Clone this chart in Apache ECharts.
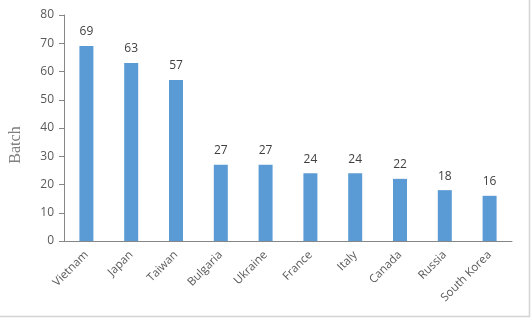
<!DOCTYPE html>
<html><head><meta charset="utf-8">
<script src="https://cdn.jsdelivr.net/npm/echarts@6/dist/echarts.min.js"></script>
<style>html,body{margin:0;padding:0;background:#fff}#c{width:532px;height:318px}</style>
</head><body><div id="c"></div>
<script>
var categories = ["Vietnam","Japan","Taiwan","Bulgaria","Ukraine","France","Italy","Canada","Russia","South Korea"];
var values = [69,63,57,27,27,24,24,22,18,16];
var yTicks = [0,10,20,30,40,50,60,70,80];
var chart = echarts.init(document.getElementById('c'));
chart.setOption({
  animation:false,
  graphic:[
    {type:'polyline',shape:{points:[[529.5,0],[529.5,316.5],[0,316.5]]},style:{fill:null,stroke:'#d4d4d4',lineWidth:1.5},silent:true},
    {type:'text',x:16,y:145,rotation:Math.PI/2,style:{text:'Batch',fill:'#808080',font:'16px "Liberation Serif"',textAlign:'center',textVerticalAlign:'middle'},silent:true}
  ],
  grid:{left:64,right:20,top:15,bottom:77},
  xAxis:{type:'category',data:categories,
    axisLine:{lineStyle:{color:'#868686',width:1}},axisTick:{show:false},
    axisLabel:{rotate:45,color:'#595959',fontFamily:'Open Sans',fontSize:11.5,interval:0,margin:12}},
  yAxis:{type:'value',min:yTicks[0],max:yTicks[yTicks.length-1],interval:10,
    axisLine:{show:true,lineStyle:{color:'#868686',width:1}},
    axisTick:{show:true,inside:false,length:5,lineStyle:{color:'#868686'}},
    splitLine:{show:false},
    axisLabel:{color:'#595959',fontFamily:'Open Sans',fontSize:12,margin:10}},
  series:[{type:'bar',data:values,barWidth:14,itemStyle:{color:'#5b9bd5'},
    label:{show:true,position:'top',distance:8,color:'#404040',fontFamily:'Open Sans',fontSize:12}}]
});
</script></body></html>
